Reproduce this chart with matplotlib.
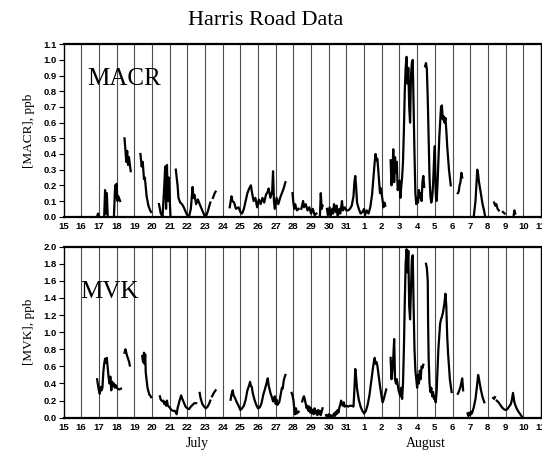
import numpy as np
import matplotlib
matplotlib.use("Agg")
import matplotlib.pyplot as plt
from matplotlib.transforms import blended_transform_factory

# Day numbering: 15..31 are July days, 32..42 are August 1..11
day_ticks = list(range(15, 43))
day_labels = [str(d) for d in range(15, 32)] + [str(d) for d in range(1, 12)]

# MACR mixing ratio (ppb); each run is one continuous stretch of measurements
macr_runs = [
    [(16.9, 0.0), (16.95, 0.02), (17.0, 0.0)],
    [(17.3, 0.0), (17.35, 0.17), (17.4, 0.02), (17.45, 0.15), (17.5, 0.0)],
    [(17.85, 0.0), (17.92, 0.2), (17.95, 0.12), (18.0, 0.21), (18.05, 0.1),
     (18.1, 0.13), (18.2, 0.1)],
    [(18.45, 0.50), (18.55, 0.35), (18.6, 0.42), (18.65, 0.33), (18.7, 0.38),
     (18.8, 0.29)],
    [(19.35, 0.40), (19.42, 0.32), (19.48, 0.35), (19.55, 0.24), (19.6, 0.25),
     (19.7, 0.13), (19.8, 0.07), (19.9, 0.04), (19.95, 0.03)],
    [(20.4, 0.08), (20.5, 0.02), (20.6, 0.0), (20.7, 0.2), (20.75, 0.32),
     (20.8, 0.05), (20.85, 0.33), (20.9, 0.1), (20.95, 0.25), (21.05, 0.0)],
    [(21.35, 0.30), (21.45, 0.2), (21.5, 0.12), (21.6, 0.09), (21.7, 0.08),
     (21.8, 0.06), (21.95, 0.02), (22.05, 0.0), (22.1, 0.0), (22.2, 0.05),
     (22.3, 0.19), (22.35, 0.12), (22.4, 0.14), (22.5, 0.08), (22.6, 0.11),
     (22.7, 0.08), (22.85, 0.04), (23.0, 0.0), (23.05, 0.0), (23.15, 0.03),
     (23.25, 0.07), (23.3, 0.09)],
    [(23.45, 0.12), (23.55, 0.15), (23.6, 0.16)],
    [(24.4, 0.06), (24.5, 0.13), (24.55, 0.10), (24.65, 0.09), (24.75, 0.05),
     (24.9, 0.06), (25.0, 0.03), (25.1, 0.02), (25.2, 0.05), (25.3, 0.10),
     (25.4, 0.15), (25.5, 0.18), (25.6, 0.20), (25.65, 0.16), (25.75, 0.10),
     (25.85, 0.12), (25.95, 0.06), (26.05, 0.11), (26.15, 0.08), (26.25, 0.12),
     (26.35, 0.09), (26.45, 0.14), (26.55, 0.16), (26.6, 0.18), (26.7, 0.12),
     (26.8, 0.16), (26.85, 0.29), (26.9, 0.10), (26.95, 0.05), (27.05, 0.12),
     (27.15, 0.08), (27.25, 0.12), (27.35, 0.15), (27.45, 0.18), (27.55, 0.22)],
    [(27.95, 0.15), (28.0, 0.09), (28.05, 0.05), (28.1, 0.08), (28.2, 0.04),
     (28.3, 0.05)],
    [(28.45, 0.05), (28.55, 0.10), (28.6, 0.06), (28.7, 0.08), (28.8, 0.04),
     (28.9, 0.06), (29.0, 0.02), (29.1, 0.05), (29.2, 0.01), (29.3, 0.02)],
    [(29.5, 0.0), (29.55, 0.15), (29.6, 0.05), (29.65, 0.07)],
    [(29.9, 0.05), (29.95, 0.01), (30.05, 0.06), (30.1, 0.0), (30.2, 0.05),
     (30.25, 0.02), (30.3, 0.08), (30.4, 0.03), (30.45, 0.07), (30.5, 0.0),
     (30.6, 0.05), (30.65, 0.02), (30.75, 0.10), (30.8, 0.04), (30.9, 0.06),
     (31.0, 0.04), (31.1, 0.04), (31.2, 0.05), (31.3, 0.07), (31.4, 0.13),
     (31.45, 0.22), (31.5, 0.26), (31.55, 0.19), (31.6, 0.09), (31.7, 0.05),
     (31.8, 0.02), (31.9, 0.03), (32.0, 0.05), (32.05, 0.01), (32.15, 0.04),
     (32.25, 0.02), (32.35, 0.06), (32.45, 0.14), (32.55, 0.28), (32.6, 0.35),
     (32.65, 0.40), (32.7, 0.36), (32.75, 0.37), (32.8, 0.30), (32.85, 0.22),
     (32.9, 0.15), (32.95, 0.18), (33.05, 0.10), (33.1, 0.06), (33.15, 0.09),
     (33.2, 0.07)],
    [(33.5, 0.36), (33.55, 0.20), (33.6, 0.28), (33.65, 0.43), (33.7, 0.22),
     (33.75, 0.38), (33.8, 0.28), (33.85, 0.35), (33.9, 0.17), (34.0, 0.23),
     (34.05, 0.12), (34.1, 0.19), (34.15, 0.25), (34.2, 0.35), (34.25, 0.55),
     (34.3, 0.80), (34.35, 0.95), (34.4, 1.02), (34.45, 0.85), (34.5, 0.95),
     (34.55, 0.70), (34.6, 0.60), (34.65, 0.90), (34.7, 0.98), (34.75, 1.00),
     (34.8, 0.70), (34.85, 0.40), (34.9, 0.15), (34.95, 0.08), (35.0, 0.12),
     (35.05, 0.09), (35.1, 0.17), (35.15, 0.12), (35.2, 0.15), (35.25, 0.10),
     (35.3, 0.22), (35.35, 0.26), (35.4, 0.19)],
    [(35.45, 0.96), (35.5, 0.98), (35.55, 0.94), (35.6, 0.75), (35.65, 0.50),
     (35.7, 0.25), (35.75, 0.13), (35.8, 0.09), (35.85, 0.12), (35.9, 0.20),
     (35.95, 0.35), (36.0, 0.45), (36.05, 0.15), (36.1, 0.10), (36.15, 0.20),
     (36.2, 0.35), (36.25, 0.50), (36.3, 0.60), (36.35, 0.70), (36.4, 0.71),
     (36.45, 0.62), (36.5, 0.64), (36.55, 0.60), (36.6, 0.63), (36.65, 0.55),
     (36.7, 0.45), (36.8, 0.30), (36.9, 0.20)],
    [(37.3, 0.15), (37.35, 0.16), (37.4, 0.20), (37.45, 0.22), (37.5, 0.28),
     (37.55, 0.25)],
    [(38.2, 0.0), (38.3, 0.10), (38.4, 0.30), (38.45, 0.27), (38.5, 0.22),
     (38.6, 0.15), (38.7, 0.08), (38.8, 0.03), (38.85, 0.0)],
    [(39.35, 0.09), (39.42, 0.07), (39.48, 0.08), (39.55, 0.05), (39.62, 0.04)],
    [(39.85, 0.03), (39.95, 0.02)],
    [(40.45, 0.0), (40.5, 0.04), (40.55, 0.02)],
]

# MVK mixing ratio (ppb)
mvk_runs = [
    [(16.9, 0.45), (16.95, 0.38), (17.0, 0.32), (17.05, 0.28), (17.1, 0.36),
     (17.15, 0.32), (17.2, 0.35), (17.25, 0.53), (17.3, 0.63), (17.35, 0.69),
     (17.4, 0.64), (17.45, 0.70), (17.5, 0.58), (17.55, 0.47), (17.6, 0.40),
     (17.65, 0.48), (17.7, 0.32), (17.75, 0.42), (17.8, 0.37), (17.85, 0.40),
     (17.9, 0.35), (17.95, 0.38), (18.05, 0.34), (18.15, 0.33), (18.25, 0.34)],
    [(18.45, 0.76), (18.5, 0.80), (18.55, 0.76), (18.6, 0.72), (18.7, 0.66),
     (18.75, 0.61)],
    [(19.45, 0.72), (19.5, 0.65), (19.55, 0.76), (19.58, 0.63), (19.62, 0.74),
     (19.65, 0.53), (19.7, 0.44), (19.75, 0.35), (19.8, 0.31), (19.85, 0.27),
     (19.9, 0.26), (19.95, 0.24)],
    [(20.45, 0.25), (20.5, 0.21), (20.6, 0.19), (20.65, 0.20), (20.7, 0.16),
     (20.75, 0.18), (20.8, 0.14), (20.85, 0.20), (20.9, 0.14), (21.0, 0.12),
     (21.1, 0.09), (21.2, 0.08), (21.3, 0.08), (21.4, 0.04), (21.45, 0.11),
     (21.55, 0.19), (21.65, 0.26), (21.7, 0.23), (21.8, 0.18), (21.9, 0.13),
     (22.0, 0.11), (22.1, 0.10), (22.2, 0.13), (22.3, 0.15), (22.4, 0.17),
     (22.5, 0.17)],
    [(22.7, 0.29), (22.75, 0.23), (22.85, 0.16), (22.95, 0.13), (23.05, 0.11),
     (23.15, 0.13), (23.25, 0.17), (23.3, 0.20)],
    [(23.4, 0.25), (23.5, 0.29), (23.6, 0.32)],
    [(24.45, 0.21), (24.5, 0.27), (24.57, 0.32), (24.62, 0.26), (24.7, 0.23),
     (24.8, 0.18), (24.9, 0.14), (25.0, 0.09), (25.1, 0.11), (25.2, 0.14),
     (25.3, 0.21), (25.4, 0.32), (25.5, 0.38), (25.55, 0.42), (25.6, 0.37),
     (25.65, 0.36), (25.7, 0.29), (25.8, 0.21), (25.9, 0.15), (26.0, 0.11),
     (26.1, 0.12), (26.2, 0.17), (26.3, 0.27), (26.4, 0.34), (26.5, 0.42),
     (26.55, 0.46), (26.6, 0.38), (26.7, 0.29), (26.8, 0.23), (26.85, 0.19),
     (26.9, 0.21), (26.95, 0.25), (27.0, 0.16), (27.05, 0.21), (27.1, 0.15),
     (27.2, 0.18), (27.3, 0.29), (27.35, 0.35), (27.4, 0.34), (27.45, 0.43),
     (27.5, 0.47), (27.55, 0.50)],
    [(27.9, 0.29), (27.95, 0.26), (28.0, 0.21), (28.05, 0.11), (28.1, 0.04),
     (28.15, 0.11), (28.2, 0.05), (28.3, 0.07)],
    [(28.5, 0.19), (28.55, 0.23), (28.6, 0.25), (28.65, 0.21), (28.7, 0.16),
     (28.75, 0.11), (28.8, 0.14), (28.85, 0.08), (28.9, 0.13), (28.95, 0.06),
     (29.0, 0.11), (29.05, 0.05), (29.1, 0.09), (29.15, 0.04), (29.2, 0.11),
     (29.25, 0.05), (29.3, 0.08), (29.35, 0.03), (29.4, 0.09), (29.45, 0.04),
     (29.5, 0.08), (29.55, 0.03), (29.6, 0.07), (29.65, 0.11)],
    [(29.85, 0.03), (29.9, 0.01), (30.0, 0.04), (30.05, 0.0), (30.1, 0.03),
     (30.2, 0.01), (30.3, 0.05), (30.35, 0.02), (30.4, 0.07), (30.45, 0.04),
     (30.5, 0.09), (30.55, 0.06), (30.6, 0.12), (30.65, 0.15), (30.7, 0.20),
     (30.75, 0.16), (30.8, 0.14), (30.85, 0.18), (30.9, 0.13), (31.0, 0.14),
     (31.1, 0.13), (31.2, 0.14), (31.3, 0.14), (31.4, 0.13), (31.45, 0.32),
     (31.5, 0.57), (31.55, 0.47), (31.6, 0.34), (31.7, 0.21), (31.8, 0.13),
     (31.9, 0.08), (32.0, 0.05), (32.1, 0.08), (32.2, 0.15), (32.3, 0.26),
     (32.4, 0.42), (32.5, 0.58), (32.55, 0.65), (32.6, 0.70), (32.65, 0.63),
     (32.7, 0.65), (32.75, 0.61), (32.8, 0.53), (32.9, 0.37), (33.0, 0.23),
     (33.05, 0.18), (33.1, 0.21), (33.2, 0.29), (33.25, 0.33)],
    [(33.5, 0.70), (33.55, 0.45), (33.6, 0.55), (33.65, 0.70), (33.7, 0.92),
     (33.75, 0.45), (33.8, 0.40), (33.85, 0.45), (33.95, 0.32), (34.05, 0.25),
     (34.1, 0.35), (34.15, 0.22), (34.2, 0.40), (34.25, 0.80), (34.3, 1.35),
     (34.35, 1.80), (34.4, 1.97), (34.45, 1.70), (34.5, 1.95), (34.55, 1.30),
     (34.6, 1.15), (34.65, 1.50), (34.7, 1.85), (34.75, 1.90), (34.8, 1.30),
     (34.85, 0.80), (34.9, 0.55), (34.95, 0.45), (35.0, 0.35), (35.05, 0.50),
     (35.1, 0.40), (35.15, 0.55), (35.2, 0.45), (35.25, 0.60), (35.3, 0.58),
     (35.35, 0.62)],
    [(35.5, 1.80), (35.55, 1.75), (35.6, 1.60), (35.62, 1.10), (35.65, 0.70),
     (35.7, 0.40), (35.75, 0.30), (35.8, 0.35), (35.85, 0.25), (35.9, 0.30),
     (35.95, 0.22), (36.0, 0.25), (36.05, 0.18), (36.1, 0.30), (36.15, 0.55),
     (36.2, 0.80), (36.25, 0.95), (36.3, 1.10), (36.35, 1.15), (36.4, 1.18),
     (36.45, 1.22), (36.5, 1.28), (36.55, 1.35), (36.6, 1.45), (36.65, 1.30),
     (36.7, 0.95), (36.75, 0.75), (36.8, 0.60), (36.85, 0.45), (36.95, 0.30)],
    [(37.3, 0.28), (37.35, 0.30), (37.45, 0.36), (37.55, 0.46), (37.6, 0.32)],
    [(37.85, 0.05), (37.9, 0.02), (37.95, 0.06), (38.0, 0.03), (38.05, 0.07),
     (38.1, 0.05), (38.2, 0.12), (38.3, 0.22), (38.4, 0.40), (38.45, 0.50),
     (38.5, 0.45), (38.6, 0.33), (38.7, 0.24), (38.8, 0.18)],
    [(39.3, 0.23), (39.35, 0.22), (39.4, 0.24)],
    [(39.5, 0.20), (39.6, 0.18), (39.7, 0.15), (39.8, 0.12), (39.9, 0.10),
     (40.0, 0.09), (40.1, 0.10), (40.2, 0.13), (40.3, 0.16), (40.35, 0.20),
     (40.42, 0.29), (40.5, 0.18), (40.6, 0.12), (40.7, 0.08), (40.8, 0.05),
     (40.9, 0.02), (40.95, 0.0)],
]

SERIF = ["Liberation Serif", "DejaVu Serif"]
SANS = ["Liberation Sans", "DejaVu Sans"]

fig = plt.figure(figsize=(5.42, 4.58), dpi=100)
fig.patch.set_facecolor("white")

ax_top = fig.add_axes([0.1172, 0.5269, 0.8808, 0.3764])
ax_bot = fig.add_axes([0.1172, 0.0880, 0.8808, 0.3734])


def style_panel(ax, ymax, ystep, ylabel, name, name_xy):
    ax.set_xlim(15, 42)
    ax.set_ylim(0, ymax)
    for d in day_ticks[1:-1]:
        ax.axvline(d, color="0.3", lw=0.8, zorder=1)
    ax.set_xticks(day_ticks)
    ax.set_xticklabels(day_labels, fontfamily=SANS, fontsize=6.8,
                       fontweight="bold")
    ax.tick_params(axis="x", length=0, pad=4)
    yt = np.round(np.arange(0, ymax + ystep / 2, ystep), 2)
    ax.set_yticks(yt)
    ax.set_yticklabels([f"{v:.1f}" for v in yt], fontfamily=SANS,
                       fontsize=6.8, fontweight="bold")
    ax.tick_params(axis="y", direction="out", length=3.5, width=0.8, pad=1.5)
    for side in ("left", "right"):
        ax.spines[side].set_linewidth(1.0)
    for side in ("top", "bottom"):
        ax.spines[side].set_linewidth(1.6)
    ax.set_ylabel(ylabel, fontfamily=SERIF, fontsize=9.5, labelpad=6)
    ax.text(name_xy[0], name_xy[1], name, fontfamily=SERIF, fontsize=18,
            ha="left", va="baseline")


def draw_runs(ax, runs):
    for run in runs:
        d, v = zip(*run)
        ax.plot(d, v, color="black", lw=1.6, solid_joinstyle="round",
                zorder=3)


style_panel(ax_top, 1.1, 0.1, "[MACR], ppb", "MACR", (16.35, 0.84))
style_panel(ax_bot, 2.0, 0.2, "[MVK], ppb", "MVK", (15.95, 1.40))
draw_runs(ax_top, macr_runs)
draw_runs(ax_bot, mvk_runs)

fig.text(0.49, 0.955, "Harris Road Data", fontfamily=SERIF, fontsize=16,
         ha="center", va="center")

trans = blended_transform_factory(ax_bot.transData, fig.transFigure)
fig.text(22.55, 0.017, "July", transform=trans, fontfamily=SERIF,
         fontsize=10, ha="center", va="bottom")
fig.text(35.5, 0.017, "August", transform=trans, fontfamily=SERIF,
         fontsize=10, ha="center", va="bottom")

fig.savefig("out.png", dpi=100, facecolor="white")
